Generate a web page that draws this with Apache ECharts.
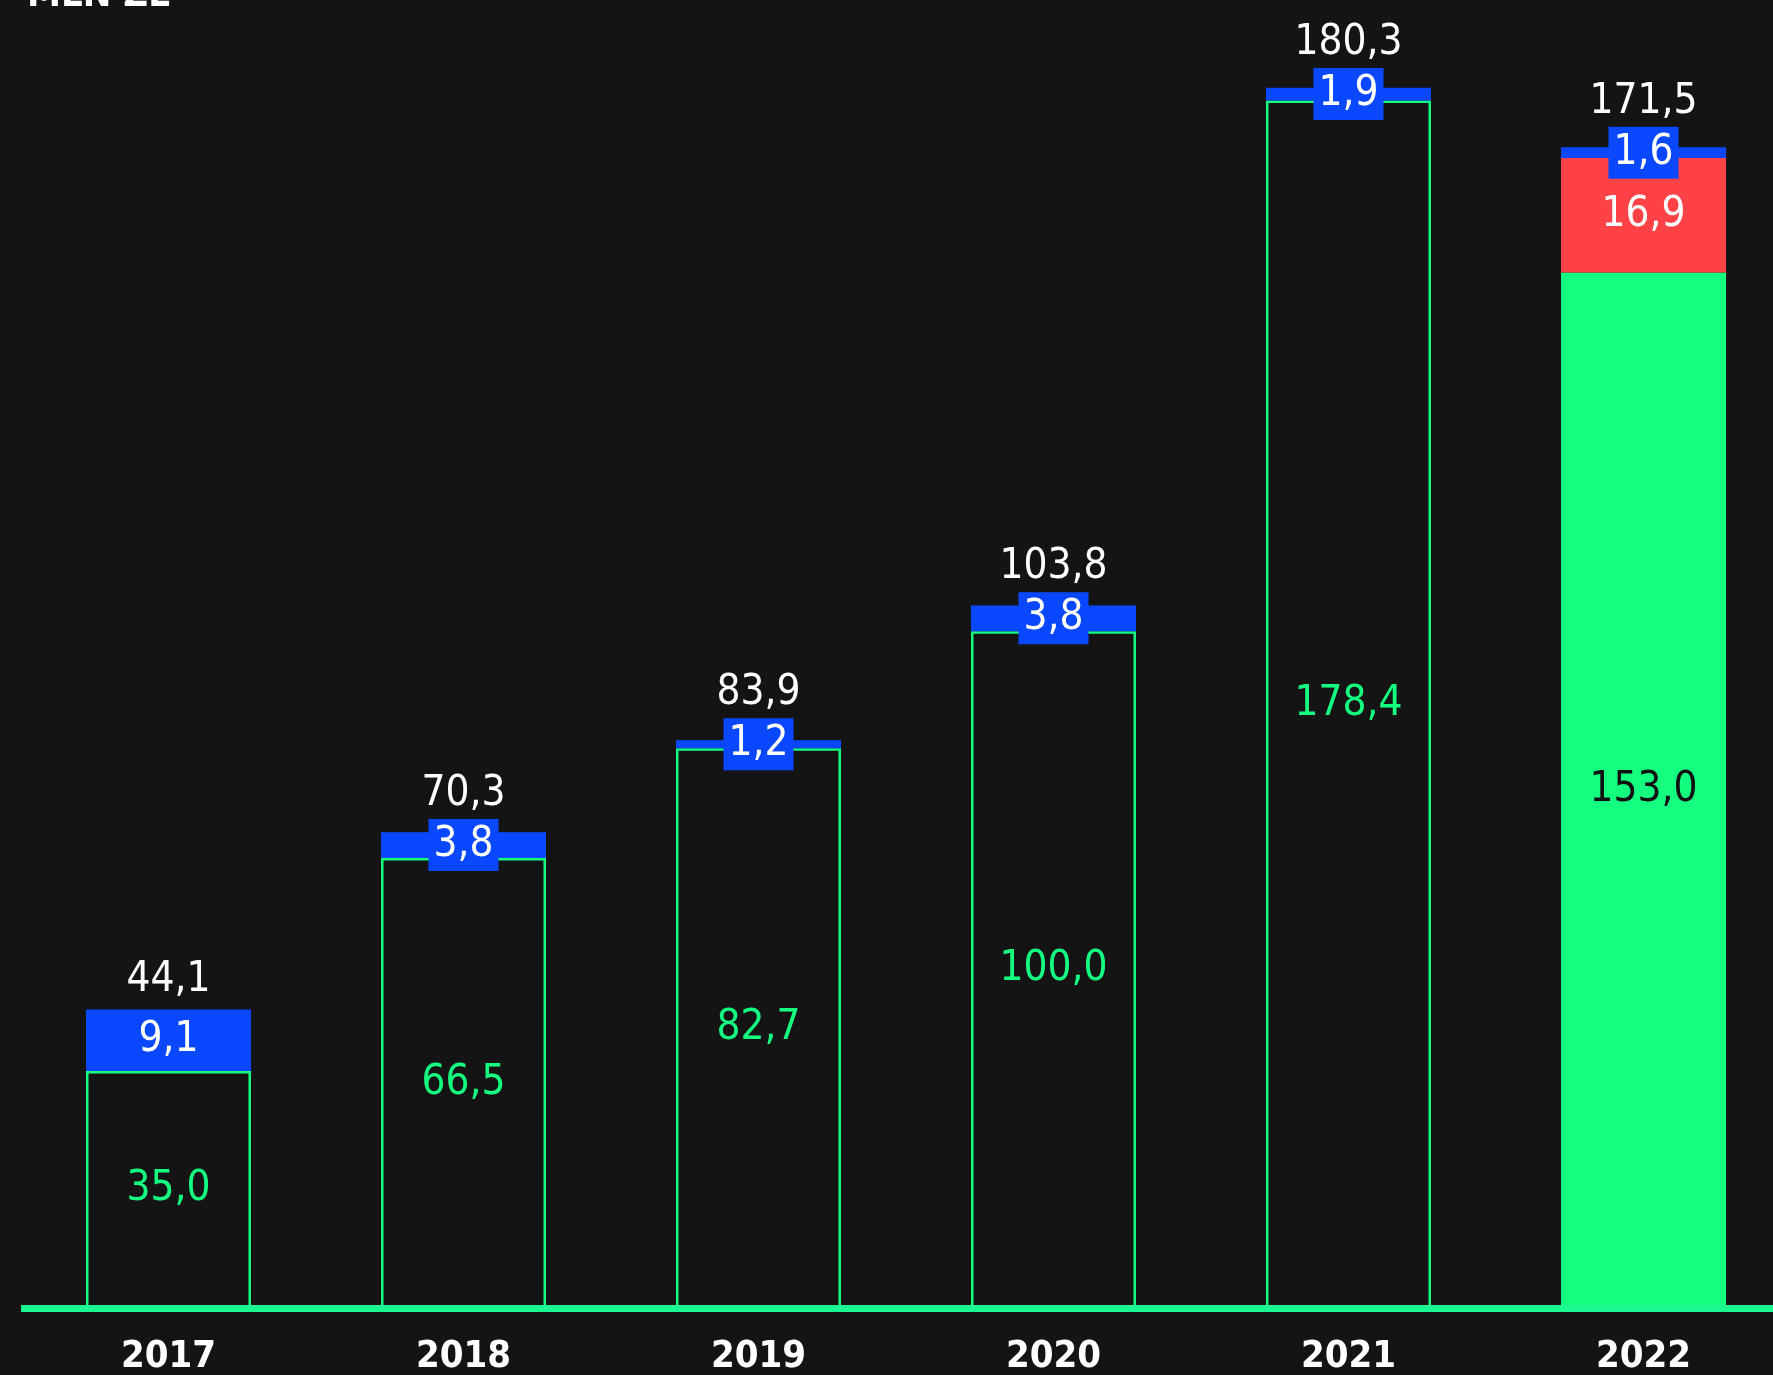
<!DOCTYPE html>
<html>
<head>
<meta charset="utf-8">
<script src="https://cdn.jsdelivr.net/npm/echarts@6/dist/echarts.min.js"></script>
<style>
  html, body { margin: 0; padding: 0; background: #141414; overflow: hidden; }
  #chart { width: 1773px; height: 1375px; }
</style>
</head>
<body>
<div id="chart"></div>
<script>
const years = ["2017", "2018", "2019", "2020", "2021", "2022"];
const baseValues = [35.0, 66.5, 82.7, 100.0, 178.4, 153.0];
const redValues = [null, null, null, null, null, 16.9];
const blueValues = [9.1, 3.8, 1.2, 3.8, 1.9, 1.6];
const totals = [44.1, 70.3, 83.9, 103.8, 180.3, 171.5];
const filledYears = ["2022"];

const BG = "#141414";
const GREEN = "#14ff80";
const AXIS_GREEN = "#1bf892";
const BLUE = "#0a48ff";
const RED = "#ff4245";
const FONT = "'Liberation Sans Narrow', 'DejaVu Sans Condensed', sans-serif";

const Y_MAX = 190;
const PX_PER_UNIT = 6.77;
const BOX_H = 52;

const fmt = (v) => v.toFixed(1).replace(".", ",");

const chart = echarts.init(document.getElementById("chart"));

chart.setOption({
  backgroundColor: BG,
  animation: false,
  title: {
    text: "MLN ZŁ",
    left: 22,
    top: -28,
    textStyle: { color: "#fff", fontSize: 38, fontWeight: "bold", fontFamily: FONT },
  },
  grid: { left: 21, width: 1770, top: 22, bottom: 67, outerBoundsMode: "none" },
  xAxis: {
    type: "category",
    data: years,
    z: 5,
    axisTick: { show: false },
    axisLine: { lineStyle: { color: AXIS_GREEN, width: 7, cap: "butt" } },
    axisLabel: { color: "#fff", fontSize: 38, fontWeight: "bold", fontFamily: FONT, margin: 30 },
  },
  yAxis: {
    type: "value",
    min: 0,
    max: Y_MAX,
    show: false,
    splitLine: { show: false },
  },
  series: [
    {
      name: "base",
      type: "bar",
      stack: "a",
      barWidth: 165,
      data: baseValues.map((v, i) => {
        if (filledYears.includes(years[i])) {
          return { value: v, itemStyle: { color: GREEN }, label: { color: "#111" } };
        }
        return { value: v, itemStyle: { color: BG, borderColor: GREEN, borderWidth: 2.5 } };
      }),
      label: {
        show: true,
        position: "inside",
        color: GREEN,
        fontSize: 42,
        fontFamily: FONT,
        formatter: (p) => fmt(p.value),
      },
    },
    {
      name: "red",
      type: "bar",
      stack: "a",
      barWidth: 165,
      itemStyle: { color: RED },
      data: redValues,
      label: {
        show: true,
        position: "inside",
        color: "#fff",
        fontSize: 42,
        fontFamily: FONT,
        formatter: (p) => fmt(p.value),
      },
    },
    {
      name: "blue",
      type: "bar",
      stack: "a",
      barWidth: 165,
      itemStyle: { color: BLUE },
      data: blueValues,
      label: {
        show: true,
        position: "inside",
        color: "#fff",
        fontSize: 42,
        lineHeight: 46,
        fontFamily: FONT,
        backgroundColor: BLUE,
        padding: [4, 5, 2, 5],
        formatter: (p) => fmt(p.value),
      },
    },
    {
      name: "total",
      type: "scatter",
      symbolSize: 0,
      itemStyle: { opacity: 1 },
      data: totals.map((v, i) => {
        const seg = blueValues[i] * PX_PER_UNIT;
        const extra = Math.max(0, (BOX_H - seg) / 2);
        return { value: v, label: { distance: Math.max(8, extra + 4) } };
      }),
      label: {
        show: true,
        position: "top",
        color: "#fff",
        fontSize: 42,
        fontFamily: FONT,
        formatter: (p) => fmt(p.value),
      },
    },
  ],
});
</script>
</body>
</html>
